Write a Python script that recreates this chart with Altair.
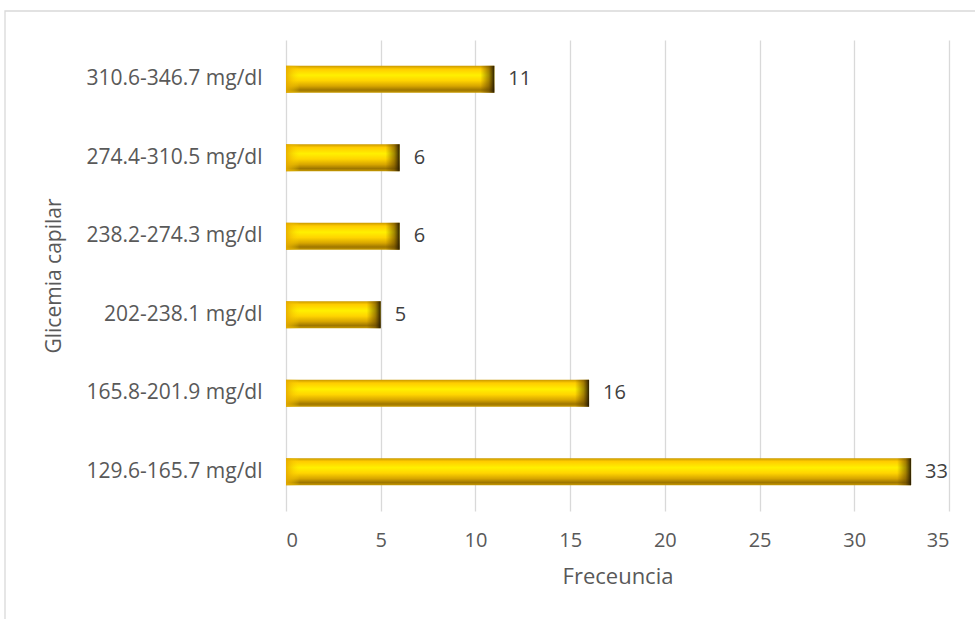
import altair as alt
import pandas as pd

# Frequency of capillary glycemia ranges
rangos = [
    "310.6-346.7 mg/dl",
    "274.4-310.5 mg/dl",
    "238.2-274.3 mg/dl",
    "202-238.1 mg/dl",
    "165.8-201.9 mg/dl",
    "129.6-165.7 mg/dl",
]
frecuencias = [11, 6, 6, 5, 16, 33]

df = pd.DataFrame({"rango": rangos, "frecuencia": frecuencias})

FONT = "Open Sans"
TXT = "#595959"
BAR_H = 27

y_enc = alt.Y(
    "rango:N",
    sort=rangos,
    title="Glicemia capilar",
    axis=alt.Axis(
        labelFont=FONT, labelFontSize=21, labelColor=TXT,
        titleFont=FONT, titleFontSize=21, titleFontWeight="normal", titleColor=TXT,
        labelPadding=24, titlePadding=22, ticks=False, domain=False,
    ),
    scale=alt.Scale(paddingInner=0.0, paddingOuter=0.0),
)

x_scale = alt.Scale(domain=[0, 35], nice=False)

gold_vertical = alt.Gradient(
    gradient="linear", x1=0, y1=0, x2=0, y2=1,
    stops=[
        alt.GradientStop(offset=0.0, color="#C99800"),
        alt.GradientStop(offset=0.12, color="#FFCC00"),
        alt.GradientStop(offset=0.35, color="#FFF000"),
        alt.GradientStop(offset=0.55, color="#FFD400"),
        alt.GradientStop(offset=0.75, color="#D8A600"),
        alt.GradientStop(offset=0.9, color="#9E7600"),
        alt.GradientStop(offset=1.0, color="#C89A00"),
    ],
)

right_cap = alt.Gradient(
    gradient="linear", x1=0, y1=0, x2=1, y2=0,
    stops=[
        alt.GradientStop(offset=0.0, color="rgba(90,60,0,0)"),
        alt.GradientStop(offset=0.6, color="rgba(90,60,0,0.55)"),
        alt.GradientStop(offset=1.0, color="rgba(30,20,0,0.95)"),
    ],
)

left_cap = alt.Gradient(
    gradient="linear", x1=0, y1=0, x2=1, y2=0,
    stops=[
        alt.GradientStop(offset=0.0, color="rgba(230,170,0,0.9)"),
        alt.GradientStop(offset=1.0, color="rgba(255,220,0,0)"),
    ],
)

base = alt.Chart(df)

bars = base.mark_bar(size=BAR_H, color=gold_vertical).encode(
    x=alt.X(
        "frecuencia:Q",
        scale=x_scale,
        title="Freceuncia",
        axis=alt.Axis(
            values=list(range(0, 36, 5)),
            labelFont=FONT, labelFontSize=20, labelColor=TXT,
            titleFont=FONT, titleFontSize=22, titleFontWeight="normal", titleColor=TXT,
            labelPadding=19, titlePadding=16, ticks=False, domain=False,
            grid=True, gridColor="#D9D9D9", gridWidth=1.3,
        ),
    ),
    y=y_enc,
)

right_end = base.mark_bar(size=BAR_H, color=right_cap, xOffset=-14).encode(
    x=alt.X("frecuencia:Q", scale=x_scale),
    x2="frecuencia:Q",
    y=alt.Y("rango:N", sort=rangos),
)

left_end = base.mark_bar(size=BAR_H, color=left_cap, x2Offset=14).encode(
    x=alt.datum(0, scale=x_scale),
    x2=alt.datum(0),
    y=alt.Y("rango:N", sort=rangos),
)

labels = base.mark_text(
    align="left", baseline="middle", dx=14, font=FONT, fontSize=20, color="#404040"
).encode(
    x=alt.X("frecuencia:Q", scale=x_scale),
    y=alt.Y("rango:N", sort=rangos),
    text="frecuencia:Q",
)

# outer chart frame
frame = alt.Chart(pd.DataFrame({"k": [0]})).mark_rect(
    fill=None, stroke="#D9D9D9", strokeWidth=1.3
).encode(
    x=alt.value(-281), x2=alt.value(720), y=alt.value(-29), y2=alt.value(620)
)

chart = (
    alt.layer(frame, bars, left_end, right_end, labels)
    .properties(
        width=663,
        height=471,
        autosize=alt.AutoSizeParams(type="none"),
        padding={"left": 286, "top": 40, "right": 26, "bottom": 108},
        background="white",
    )
    .configure_view(stroke=None)
)

chart.save("out.html", embed_options={"renderer": "svg", "actions": False})
